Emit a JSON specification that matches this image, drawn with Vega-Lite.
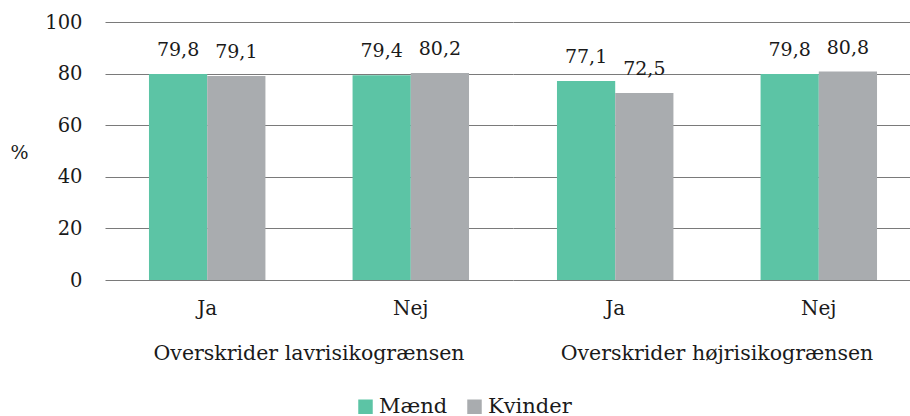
{
  "$schema": "https://vega.github.io/schema/vega-lite/v6.json",
  "padding": {"left": 10, "top": 12, "right": 0, "bottom": 0},
  "data": {"values": [
    {"gruppe": "Overskrider lavrisikogrænsen", "svar": "Ja", "koen": "Mænd", "pct": 79.8},
    {"gruppe": "Overskrider lavrisikogrænsen", "svar": "Ja", "koen": "Kvinder", "pct": 79.1},
    {"gruppe": "Overskrider lavrisikogrænsen", "svar": "Nej", "koen": "Mænd", "pct": 79.4},
    {"gruppe": "Overskrider lavrisikogrænsen", "svar": "Nej", "koen": "Kvinder", "pct": 80.2},
    {"gruppe": "Overskrider højrisikogrænsen", "svar": "Ja", "koen": "Mænd", "pct": 77.1},
    {"gruppe": "Overskrider højrisikogrænsen", "svar": "Ja", "koen": "Kvinder", "pct": 72.5},
    {"gruppe": "Overskrider højrisikogrænsen", "svar": "Nej", "koen": "Mænd", "pct": 79.8},
    {"gruppe": "Overskrider højrisikogrænsen", "svar": "Nej", "koen": "Kvinder", "pct": 80.8}
  ]},
  "facet": {
    "column": {
      "field": "gruppe", "type": "nominal", "title": null,
      "sort": ["Overskrider lavrisikogrænsen", "Overskrider højrisikogrænsen"],
      "header": {"labelOrient": "bottom", "labelFont": "DejaVu Serif", "labelFontSize": 20.5, "labelColor": "#1a1a1a", "labelPadding": 26}
    }
  },
  "spacing": 0,
  "spec": {
    "width": 408,
    "height": 258,
    "encoding": {
      "x": {"field": "svar", "type": "nominal", "sort": ["Ja", "Nej"],
        "scale": {"paddingInner": 0.428, "paddingOuter": 0.216},
        "axis": {"title": null, "domain": false, "ticks": false, "labelAngle": 0, "labelPadding": 18, "labelFont": "DejaVu Serif", "labelFontSize": 20, "labelColor": "#1a1a1a"}},
      "xOffset": {"field": "koen", "type": "nominal", "sort": ["Mænd", "Kvinder"], "scale": {"paddingInner": 0, "paddingOuter": 0}},
      "y": {"field": "pct", "type": "quantitative",
        "scale": {"domain": [0, 100]},
        "axis": {"values": [0, 20, 40, 60, 80, 100], "title": "%", "titleAngle": 0, "titleAlign": "left", "titleBaseline": "middle", "titleX": -95, "titleY": 130,
          "titleFont": "DejaVu Serif", "titleFontSize": 19, "titleFontWeight": "normal", "titleColor": "#1a1a1a",
          "domain": false, "ticks": false, "labelPadding": 23, "labelFont": "DejaVu Serif", "labelFontSize": 19.5, "labelColor": "#1a1a1a",
          "grid": true, "gridColor": "#7a7a7a", "gridWidth": 1.2}}
    },
    "layer": [
      {"mark": {"type": "bar"},
       "encoding": {"color": {"field": "koen", "type": "nominal", "sort": ["Mænd", "Kvinder"],
         "scale": {"domain": ["Mænd", "Kvinder"], "range": ["#5CC4A5", "#A9ACAF"]},
         "legend": {"title": null, "orient": "none", "legendX": 250, "legendY": 374, "direction": "horizontal", "symbolType": "square", "symbolSize": 210, "symbolStrokeWidth": 0, "labelFont": "DejaVu Serif", "labelFontSize": 21, "labelColor": "#1a1a1a", "columnPadding": 16, "labelOffset": 3}}}},
      {"mark": {"type": "text", "baseline": "alphabetic", "dy": -18, "font": "DejaVu Serif", "fontSize": 19, "color": "#1a1a1a"},
       "encoding": {"text": {"field": "pct", "type": "quantitative", "format": ".1f"}}}
    ]
  },
  "config": {
    "view": {"stroke": null},
    "locale": {"number": {"decimal": ",", "thousands": ".", "grouping": [3], "currency": ["", " kr."]}}
  }
}
